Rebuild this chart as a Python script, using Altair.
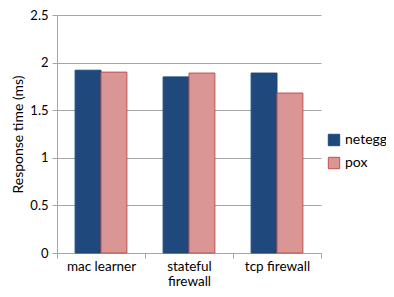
import altair as alt
import pandas as pd

categories = ["mac learner", "stateful firewall", "tcp firewall"]
netegg = [1.92, 1.85, 1.89]
pox = [1.90, 1.89, 1.68]
series = ["netegg", "pox"]

rows = []
for i, c in enumerate(categories):
    rows.append({"app": c, "system": "netegg", "value": netegg[i]})
    rows.append({"app": c, "system": "pox", "value": pox[i]})
df = pd.DataFrame(rows)

FONT = "Lato"

chart = alt.Chart(df).mark_bar(strokeWidth=1).encode(
    x=alt.X("app:N", sort=categories, title=None,
            scale=alt.Scale(paddingInner=0.0, paddingOuter=0.0),
            axis=alt.Axis(labelAngle=0, tickBand="extent", domainColor="#a6a6a6",
                          tickColor="#a6a6a6", tickSize=5, labelFontSize=13.5,
                          labelFont=FONT, labelColor="#000000", labelPadding=1,
                          labelLineHeight=15.5,
                          labelExpr="datum.value == 'stateful firewall' ? ['stateful', 'firewall'] : datum.value",
                          grid=False)),
    xOffset=alt.XOffset("system:N", sort=series,
                        scale=alt.Scale(paddingInner=0.0, paddingOuter=0.7)),
    y=alt.Y("value:Q", title="Response time (ms)",
            scale=alt.Scale(domain=[0, 2.5]),
            axis=alt.Axis(values=[0, 0.5, 1, 1.5, 2, 2.5], format="~g",
                          gridColor="#a6a6a6", domainColor="#a6a6a6",
                          tickColor="#a6a6a6", tickSize=5, labelFontSize=13,
                          labelFont=FONT, labelColor="#000000", titleFont=FONT,
                          titleFontSize=14, titleFontWeight="normal",
                          titleColor="#000000", titlePadding=4, labelPadding=4)),
    color=alt.Color("system:N", sort=series,
                    scale=alt.Scale(domain=series, range=["#1f497d", "#d99694"]),
                    legend=alt.Legend(title=None, symbolType="square", symbolSize=130,
                                      labelFontSize=14, labelFont=FONT,
                                      labelColor="#000000", rowPadding=7,
                                      labelOffset=4,
                                      orient="none", legendX=270, legendY=118,
                                      symbolStrokeWidth=1)),
    stroke=alt.Stroke("system:N", sort=series,
                      scale=alt.Scale(domain=series, range=["#1f497d", "#c0504d"]),
                      legend=None),
).properties(
    width=264, height=238,
    padding={"left": 49, "top": 7, "right": 65, "bottom": 36},
    autosize=alt.AutoSizeParams(type="none"),
).configure_view(stroke=None).configure_legend(symbolStrokeColor="#c0504d")

chart.save("out.html", embed_options={"renderer": "svg", "actions": False})
